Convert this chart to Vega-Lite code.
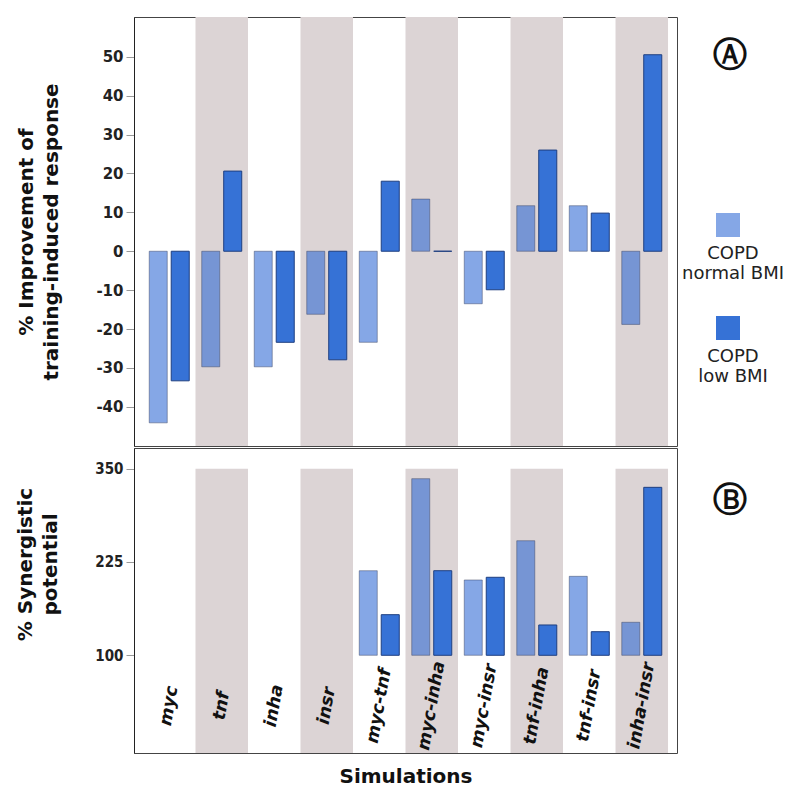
{
  "$schema": "https://vega.github.io/schema/vega-lite/v6.json",
  "background": "white",
  "padding": {"left": 15, "top": 16, "right": 5, "bottom": 5},
  "datasets": {
    "bars": [
      {"sim": "myc", "group": "COPD normal BMI", "improvement": -44.1, "synergy": null},
      {"sim": "myc", "group": "COPD low BMI", "improvement": -33.3, "synergy": null},
      {"sim": "tnf", "group": "COPD normal BMI", "improvement": -29.7, "synergy": null},
      {"sim": "tnf", "group": "COPD low BMI", "improvement": 20.6, "synergy": null},
      {"sim": "inha", "group": "COPD normal BMI", "improvement": -29.7, "synergy": null},
      {"sim": "inha", "group": "COPD low BMI", "improvement": -23.4, "synergy": null},
      {"sim": "insr", "group": "COPD normal BMI", "improvement": -16.2, "synergy": null},
      {"sim": "insr", "group": "COPD low BMI", "improvement": -27.9, "synergy": null},
      {"sim": "myc-tnf", "group": "COPD normal BMI", "improvement": -23.4, "synergy": 213.3},
      {"sim": "myc-tnf", "group": "COPD low BMI", "improvement": 18.0, "synergy": 154.4},
      {"sim": "myc-inha", "group": "COPD normal BMI", "improvement": 13.4, "synergy": 336.6},
      {"sim": "myc-inha", "group": "COPD low BMI", "improvement": 0, "synergy": 213.3},
      {"sim": "myc-insr", "group": "COPD normal BMI", "improvement": -13.5, "synergy": 200.9},
      {"sim": "myc-insr", "group": "COPD low BMI", "improvement": -9.9, "synergy": 204.5},
      {"sim": "tnf-inha", "group": "COPD normal BMI", "improvement": 11.7, "synergy": 253.5},
      {"sim": "tnf-inha", "group": "COPD low BMI", "improvement": 26.0, "synergy": 140.6},
      {"sim": "tnf-insr", "group": "COPD normal BMI", "improvement": 11.7, "synergy": 205.8},
      {"sim": "tnf-insr", "group": "COPD low BMI", "improvement": 9.8, "synergy": 131.6},
      {"sim": "inha-insr", "group": "COPD normal BMI", "improvement": -18.8, "synergy": 144.2},
      {"sim": "inha-insr", "group": "COPD low BMI", "improvement": 50.5, "synergy": 325.0}
    ],
    "stripes": [
      {"sim": "tnf"}, {"sim": "insr"}, {"sim": "myc-inha"}, {"sim": "tnf-inha"}, {"sim": "inha-insr"}
    ]
  },
  "config": {
    "font": "DejaVu Sans",
    "view": {"stroke": "#444", "strokeWidth": 1},
    "axis": {
      "grid": false,
      "domainColor": "#222",
      "domainWidth": 1,
      "tickColor": "#999",
      "tickSize": 8,
      "labelFont": "DejaVu Sans",
      "labelFontSize": 15,
      "labelFontWeight": "bold",
      "labelColor": "#222",
      "labelPadding": 3,
      "titleFont": "DejaVu Sans",
      "titleFontSize": 20,
      "titleFontWeight": "bold",
      "titleColor": "#111",
      "titleLineHeight": 25
    }
  },
  "resolve": {"scale": {"color": "shared", "stroke": "shared"}, "legend": {"color": "shared"}},
  "spacing": 0,
  "vconcat": [
    {
      "width": 543,
      "height": 429,
      "title": {"text": "Ⓐ", "orient": "right", "anchor": "start", "angle": 0, "align": "center", "baseline": "middle", "font": "DejaVu Sans", "fontSize": 34, "fontWeight": "bold", "color": "#111", "offset": 19, "dy": 39},
      "layer": [
        {
          "data": {"name": "stripes"},
          "mark": {"type": "bar", "color": "#dcd4d5"},
          "encoding": {
            "x": {"field": "sim", "type": "nominal", "axis": null,
                  "scale": {"domain": ["myc", "tnf", "inha", "insr", "myc-tnf", "myc-inha", "myc-insr", "tnf-inha", "tnf-insr", "inha-insr"], "paddingInner": 0, "paddingOuter": 0.171}},
            "y": {"datum": 60.2},
            "y2": {"datum": -50.05}
          }
        },
        {
          "data": {"name": "bars"},
          "mark": {"type": "bar", "strokeWidth": 1},
          "encoding": {
            "x": {"field": "sim", "type": "nominal", "axis": null},
            "xOffset": {"field": "group", "type": "nominal", "scale": {"domain": ["COPD normal BMI", "COPD low BMI"], "paddingInner": 0.18, "paddingOuter": 0.284}},
            "y": {"field": "improvement", "type": "quantitative",
                  "scale": {"domain": [-50.05, 60.2], "nice": false, "zero": false},
                  "axis": {"values": [-40, -30, -20, -10, 0, 10, 20, 30, 40, 50], "labelExpr": "toString(datum.value)", "title": ["% Improvement of", "training-induced response"], "titlePadding": 34}},
            "y2": {"datum": 0},
            "color": {"field": "group", "type": "nominal",
                      "scale": {"domain": ["COPD normal BMI", "COPD low BMI"], "range": ["rgba(45,104,212,0.58)", "#3672d6"]},
                      "legend": {"title": null, "orient": "none", "legendX": 582, "legendY": 196, "symbolType": "square", "symbolSize": 576, "symbolStrokeWidth": 0, "symbolOpacity": 1,
                                 "labelExpr": "['', 'COPD', slice(datum.label, 5)]", "labelAlign": "center", "labelBaseline": "top", "labelOffset": -7, "labelFont": "DejaVu Sans", "labelFontSize": 18, "labelLineHeight": 23, "labelColor": "#222", "labelLimit": 300, "rowPadding": 33}},
            "stroke": {"field": "group", "type": "nominal", "scale": {"domain": ["COPD normal BMI", "COPD low BMI"], "range": ["rgba(50,60,90,0.45)", "#1f3f80"]}, "legend": null}
          }
        },
        {
          "mark": {"type": "rule", "color": "#333", "strokeWidth": 1.5},
          "encoding": {"y": {"datum": 0}}
        }
      ]
    },
    {
      "width": 543,
      "height": 305,
      "title": {"text": "Ⓑ", "orient": "right", "anchor": "start", "angle": 0, "align": "center", "baseline": "middle", "font": "DejaVu Sans", "fontSize": 34, "fontWeight": "bold", "color": "#111", "offset": 19, "dy": 53},
      "layer": [
        {
          "data": {"name": "stripes"},
          "mark": {"type": "bar", "color": "#dcd4d5"},
          "encoding": {
            "x": {"field": "sim", "type": "nominal",
                  "scale": {"domain": ["myc", "tnf", "inha", "insr", "myc-tnf", "myc-inha", "myc-insr", "tnf-inha", "tnf-insr", "inha-insr"], "paddingInner": 0, "paddingOuter": 0.171}},
            "y": {"datum": 350},
            "y2": {"datum": -30.9}
          }
        },
        {
          "data": {"name": "bars"},
          "mark": {"type": "bar", "strokeWidth": 1},
          "encoding": {
            "x": {"field": "sim", "type": "nominal",
                  "axis": {"title": "Simulations", "orient": "bottom", "offset": -97.7, "domain": false, "ticks": false, "labelAngle": -80, "labelAlign": "center", "labelBaseline": "middle", "labelPadding": 50, "labelFontSize": 17.5, "labelFontStyle": "italic", "labelFontWeight": "bold", "labelColor": "#111", "titlePadding": 15, "zindex": 2}},
            "xOffset": {"field": "group", "type": "nominal", "scale": {"domain": ["COPD normal BMI", "COPD low BMI"], "paddingInner": 0.18, "paddingOuter": 0.284}},
            "y": {"field": "synergy", "type": "quantitative",
                  "scale": {"domain": [-30.9, 377.7], "nice": false, "zero": false},
                  "axis": {"values": [100, 225, 350], "title": ["% Synergistic", "potential"], "titlePadding": 34, "titleY": 116, "labelFont": "DejaVu Sans Condensed"}},
            "y2": {"datum": 100},
            "color": {"field": "group", "type": "nominal",
                      "scale": {"domain": ["COPD normal BMI", "COPD low BMI"], "range": ["rgba(45,104,212,0.58)", "#3672d6"]},
                      "legend": {"title": null, "orient": "none", "legendX": 582, "legendY": 196, "symbolType": "square", "symbolSize": 576, "symbolStrokeWidth": 0, "symbolOpacity": 1,
                                 "labelExpr": "['', 'COPD', slice(datum.label, 5)]", "labelAlign": "center", "labelBaseline": "top", "labelOffset": -7, "labelFont": "DejaVu Sans", "labelFontSize": 18, "labelLineHeight": 23, "labelColor": "#222", "labelLimit": 300, "rowPadding": 33}},
            "stroke": {"field": "group", "type": "nominal", "scale": {"domain": ["COPD normal BMI", "COPD low BMI"], "range": ["rgba(50,60,90,0.45)", "#1f3f80"]}, "legend": null}
          }
        },
        {
          "mark": {"type": "rule", "color": "#888", "strokeWidth": 1},
          "encoding": {"y": {"datum": 350}}
        },
        {
          "mark": {"type": "rule", "color": "#333", "strokeWidth": 1.5},
          "encoding": {"y": {"datum": 100}}
        }
      ]
    }
  ]
}
